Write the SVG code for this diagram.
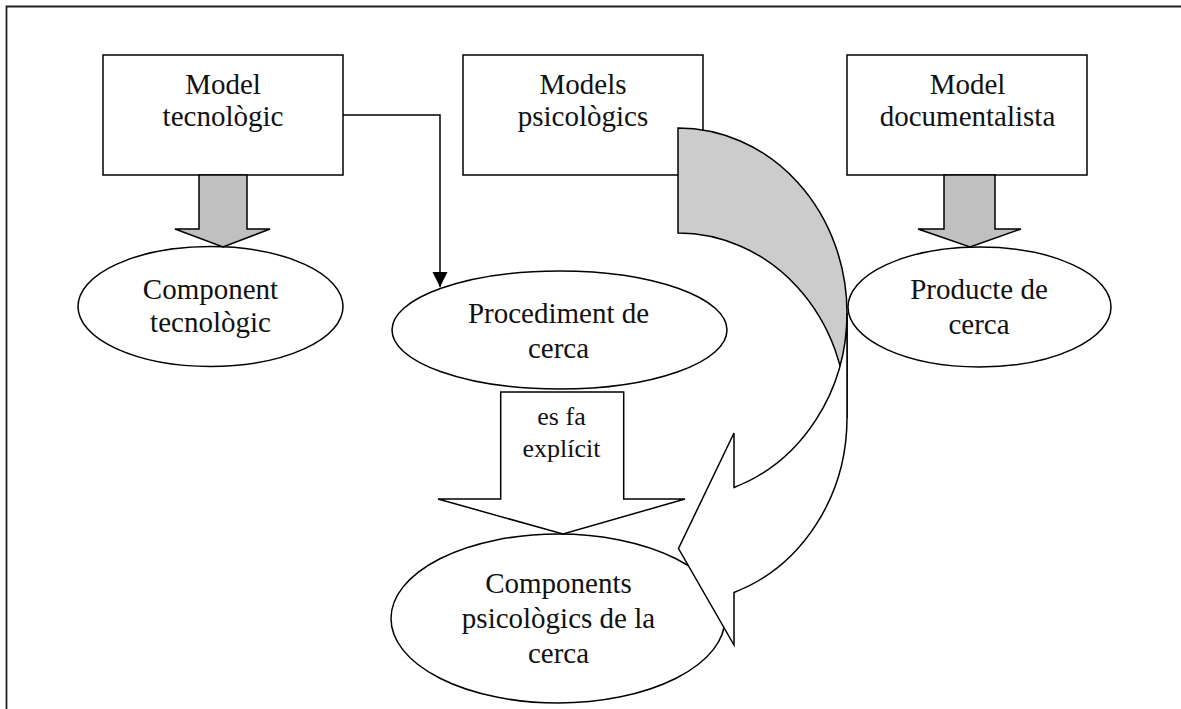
<svg xmlns="http://www.w3.org/2000/svg" width="1181" height="709" viewBox="0 0 1181 709">
  <style>
    .box { fill: #ffffff; stroke: #000000; stroke-width: 1.5; }
    .oval { fill: #ffffff; stroke: #000000; stroke-width: 1.5; }
    .lbl { font-family: "Liberation Serif", "Times New Roman", serif; font-size: 29px; fill: #111111; text-anchor: middle; }
    .small { font-size: 26px; }
    .block { stroke: #000000; stroke-width: 1.5; stroke-linejoin: miter; }
    .grey { fill: #c0c0c0; }
    .shade { fill: #cccccc; }
    .hollow { fill: #ffffff; }
    .wire { fill: none; stroke: #000000; stroke-width: 1.5; }
    .frame { fill: none; stroke: #222222; stroke-width: 1.8; }
  </style>
  <defs>
    <marker id="tri" markerUnits="userSpaceOnUse" markerWidth="16" markerHeight="16" refX="15" refY="7.5" orient="auto">
      <path d="M0,0 L15,7.5 L0,15 z" fill="#000000"/>
    </marker>
  </defs>

  <rect width="1181" height="709" fill="#ffffff"/>
  <!-- page frame: top and left edges only -->
  <path class="frame" d="M6.5,709 V6.5 H1181"/>

  <g id="nodes">
    <g id="model-tecnologic">
      <rect class="box" x="103" y="55" width="240" height="120"/>
      <text class="lbl" x="223" y="93.5">Model</text>
      <text class="lbl" x="223" y="126">tecnològic</text>
    </g>
    <g id="models-psicologics">
      <rect class="box" x="463" y="55" width="240" height="120"/>
      <text class="lbl" x="583" y="93.5">Models</text>
      <text class="lbl" x="583" y="126">psicològics</text>
    </g>
    <g id="model-documentalista">
      <rect class="box" x="847" y="55" width="240" height="120"/>
      <text class="lbl" x="967.5" y="93.5">Model</text>
      <text class="lbl" x="967.5" y="126">documentalista</text>
    </g>
    <g id="component-tecnologic">
      <ellipse class="oval" cx="210.5" cy="306.5" rx="132.5" ry="60"/>
      <text class="lbl" x="210.5" y="299">Component</text>
      <text class="lbl" x="210.5" y="332">tecnològic</text>
    </g>
    <g id="procediment-de-cerca">
      <ellipse class="oval" cx="559.5" cy="330" rx="167.5" ry="59"/>
      <text class="lbl" x="558.5" y="323">Procediment de</text>
      <text class="lbl" x="558.5" y="357.5">cerca</text>
    </g>
    <g id="producte-de-cerca">
      <ellipse class="oval" cx="979.5" cy="307" rx="131.5" ry="60"/>
      <text class="lbl" x="979" y="298.5">Producte de</text>
      <text class="lbl" x="979" y="333.5">cerca</text>
    </g>
    <g id="components-psicologics">
      <ellipse class="oval" cx="558" cy="618.5" rx="167" ry="84.5"/>
      <text class="lbl" x="558.5" y="593">Components</text>
      <text class="lbl" x="558.5" y="627.5">psicològics de la</text>
      <text class="lbl" x="558.5" y="662.5">cerca</text>
    </g>
  </g>

  <g id="connectors">
    <!-- elbow line from Model tecnològic to Procediment de cerca -->
    <path class="wire" d="M343,115 H440 V287" marker-end="url(#tri)"/>

    <!-- grey block arrows -->
    <polygon class="block grey" points="199,175 247,175 247,229 270,229 223,247 175,229 199,229"/>
    <polygon class="block grey" points="944,175 995,175 995,229 1021,229 970,247 918,229 944,229"/>

    <!-- hollow block arrow "es fa explícit" -->
    <polygon class="block hollow" points="500.7,392 623.7,392 623.7,499 685,499 563,534 438,499 500.7,499"/>
    <text class="lbl small" x="561.5" y="425">es fa</text>
    <text class="lbl small" x="561.5" y="457">explícit</text>

    <!-- curved ribbon arrow: shaded back band, then the front band with its head -->
    <path class="block shade" d="M678,128 A169,185 0 0 1 847,313 L847,418 A169,185 0 0 0 678,233 Z"/>
    <path class="block hollow" d="M847,313 A169,185 0 0 1 734,487.5 L734,433 L678.5,548.5 L734,645 L734,592.5 A169,185 0 0 0 847,418 Z"/>
  </g>
</svg>
